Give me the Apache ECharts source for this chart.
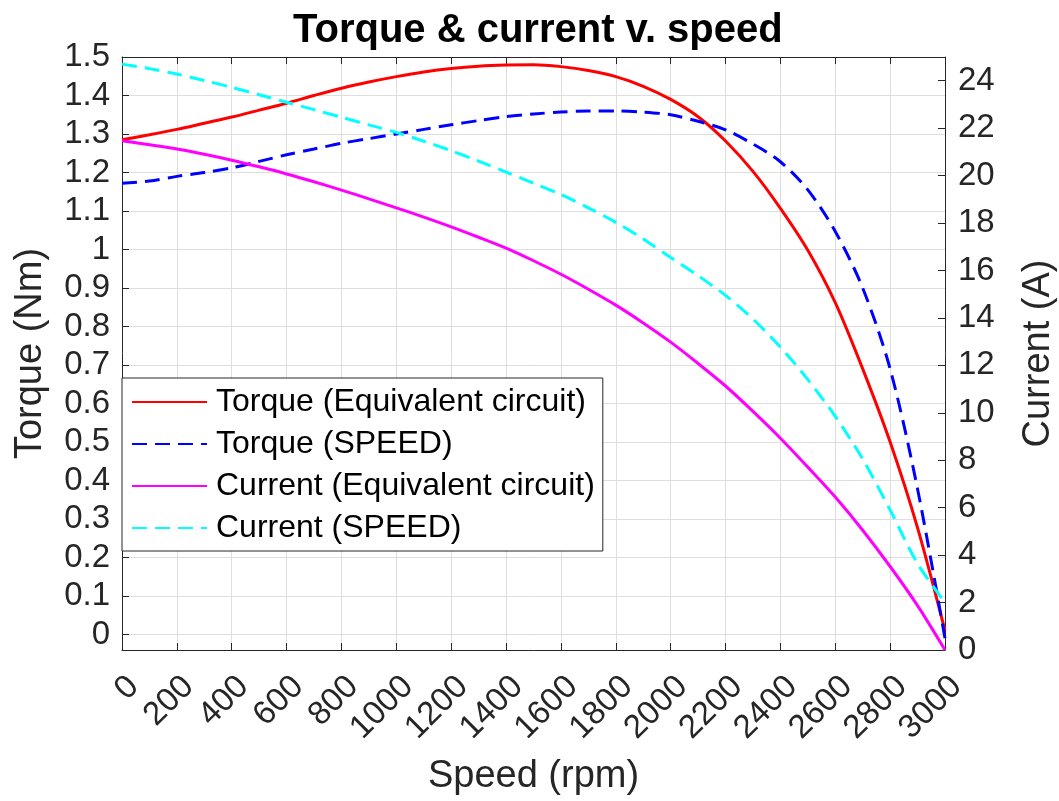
<!DOCTYPE html>
<html>
<head>
<meta charset="utf-8">
<title>Torque & current v. speed</title>
<script src="https://cdn.jsdelivr.net/npm/echarts@6/dist/echarts.min.js"></script>
<style>
html, body { margin: 0; padding: 0; background: #fff; }
#main { width: 1059px; height: 801px; }
</style>
</head>
<body>
<div id="main"></div>
<script>
var fontName = '"Liberation Sans", Arial, Helvetica, sans-serif';

// speed samples (rpm), every 100
var speed = [0, 100, 200, 300, 400, 500, 600, 700, 800, 900, 1000, 1100, 1200, 1300, 1400, 1500,
             1600, 1700, 1800, 1900, 2000, 2100, 2200, 2300, 2400, 2500, 2600, 2700, 2800, 2900, 3000];
// torque (Nm), left axis
var torqueEq = [1.285, 1.298, 1.312, 1.328, 1.344, 1.362, 1.380, 1.400, 1.419, 1.435, 1.449, 1.461, 1.470, 1.476, 1.479, 1.480,
                1.475, 1.465, 1.449, 1.424, 1.390, 1.345, 1.282, 1.203, 1.107, 0.998, 0.862, 0.690, 0.500, 0.277, 0.010];
var torqueSpeed = [1.172, 1.178, 1.190, 1.200, 1.212, 1.229, 1.246, 1.261, 1.276, 1.288, 1.300, 1.312, 1.324, 1.335, 1.345, 1.352,
                   1.357, 1.360, 1.360, 1.357, 1.350, 1.333, 1.311, 1.274, 1.228, 1.155, 1.047, 0.900, 0.690, 0.378, -0.010];
// current (A), right axis
var currentEq = [21.47, 21.30, 21.12, 20.90, 20.65, 20.37, 20.07, 19.74, 19.39, 19.02, 18.64, 18.25, 17.84, 17.40, 16.94, 16.41,
                 15.84, 15.21, 14.54, 13.79, 12.98, 12.08, 11.13, 10.06, 8.93, 7.71, 6.45, 5.05, 3.52, 1.87, 0.00];
var currentSpeed = [24.70, 24.51, 24.28, 24.01, 23.72, 23.41, 23.09, 22.78, 22.46, 22.14, 21.82, 21.45, 21.05, 20.61, 20.15, 19.68,
                    19.20, 18.64, 18.03, 17.33, 16.55, 15.78, 14.95, 13.95, 12.77, 11.40, 9.85, 8.05, 5.90, 3.64, 2.00];

var seriesNames = [
    'Torque (Equivalent circuit)',
    'Torque (SPEED)',
    'Current (Equivalent circuit)',
    'Current (SPEED)'
];

function pairs(vals) {
    return speed.map(function (s, i) { return [s, vals[i]]; });
}

var axisColor = '#262626';
var gridColor = '#dedede';

function lineSeries(name, vals, color, dashed, yIdx) {
    return {
        name: name,
        type: 'line',
        xAxisIndex: 0,
        yAxisIndex: yIdx,
        data: pairs(vals),
        showSymbol: false,
        symbol: 'none',
        smooth: 0.3,
        animation: false,
        lineStyle: {
            color: color,
            width: 3,
            type: dashed ? [15, 8] : 'solid'
        },
        itemStyle: { color: color }
    };
}

var option = {
    backgroundColor: '#fff',
    animation: false,
    textStyle: { fontFamily: fontName },
    title: {
        text: 'Torque & current v. speed',
        left: 288,
        top: 6,
        textStyle: {
            fontFamily: fontName,
            fontSize: 40,
            fontWeight: 'bold',
            color: '#000'
        }
    },
    grid: { left: 122, right: 114, top: 57, bottom: 151, containLabel: false, outerBoundsMode: 'none' },
    legend: {
        orient: 'vertical',
        left: 122,
        top: 378,
        padding: [8, 8, 7, 9],
        itemGap: 10,
        itemWidth: 75,
        itemHeight: 14,
        backgroundColor: '#fff',
        borderColor: '#262626',
        borderWidth: 1,
        itemStyle: { opacity: 0 },
        textStyle: { fontFamily: fontName, fontSize: 32, color: '#000', padding: [0, 0, 0, 4] },
        data: seriesNames
    },
    xAxis: [
        {
            type: 'value',
            position: 'bottom',
            min: 0,
            max: 3000,
            interval: 200,
            name: 'Speed (rpm)',
            nameLocation: 'middle',
            nameGap: 108,
            nameMoveOverlap: false,
            nameTextStyle: { fontFamily: fontName, fontSize: 38, color: axisColor },
            axisLine: { show: true, onZero: false, lineStyle: { color: axisColor, width: 1 } },
            axisTick: { show: true, inside: true, length: 7, lineStyle: { color: axisColor } },
            axisLabel: {
                rotate: 45,
                margin: 20,
                align: 'right',
                verticalAlign: 'top',
                fontFamily: fontName,
                fontSize: 33,
                color: axisColor,
                formatter: function (v) { return String(v); }
            },
            splitLine: { show: true, lineStyle: { color: gridColor, width: 1 } }
        },
        {
            type: 'value',
            position: 'top',
            min: 0,
            max: 3000,
            interval: 200,
            axisLine: { show: true, onZero: false, lineStyle: { color: axisColor, width: 1 } },
            axisTick: { show: true, inside: true, length: 7, lineStyle: { color: axisColor } },
            axisLabel: { show: false },
            splitLine: { show: false }
        }
    ],
    yAxis: [
        {
            type: 'value',
            position: 'left',
            min: -0.04,
            max: 1.5,
            splitNumber: 15,
            name: 'Torque (Nm)',
            nameLocation: 'middle',
            nameGap: 72,
            nameRotate: 90,
            nameMoveOverlap: false,
            nameTextStyle: { fontFamily: fontName, fontSize: 38, color: axisColor },
            axisLine: { show: true, onZero: false, lineStyle: { color: axisColor, width: 1 } },
            axisTick: { show: true, inside: true, length: 7, lineStyle: { color: axisColor } },
            axisLabel: {
                margin: 12,
                showMinLabel: false,
                fontFamily: fontName,
                fontSize: 33,
                color: axisColor
            },
            splitLine: { show: true, lineStyle: { color: gridColor, width: 1 } }
        },
        {
            type: 'value',
            position: 'right',
            min: 0,
            max: 25,
            interval: 2,
            name: 'Current (A)',
            nameLocation: 'middle',
            nameGap: 75,
            nameRotate: 90,
            nameMoveOverlap: false,
            nameTextStyle: { fontFamily: fontName, fontSize: 38, color: axisColor },
            axisLine: { show: true, onZero: false, lineStyle: { color: axisColor, width: 1 } },
            axisTick: { show: true, inside: true, length: 7, lineStyle: { color: axisColor } },
            axisLabel: {
                margin: 13,
                showMaxLabel: false,
                fontFamily: fontName,
                fontSize: 33,
                color: axisColor
            },
            splitLine: { show: false }
        }
    ],
    series: [
        lineSeries(seriesNames[0], torqueEq, '#ff0000', false, 0),
        lineSeries(seriesNames[1], torqueSpeed, '#0000ff', true, 0),
        lineSeries(seriesNames[2], currentEq, '#ff00ff', false, 1),
        lineSeries(seriesNames[3], currentSpeed, '#00ffff', true, 1)
    ]
};

try {
    var chart = echarts.init(document.getElementById('main'), null, { renderer: 'canvas' });
    chart.setOption(option);
} catch (e) {
    console.warn(e);
}
</script>
</body>
</html>
